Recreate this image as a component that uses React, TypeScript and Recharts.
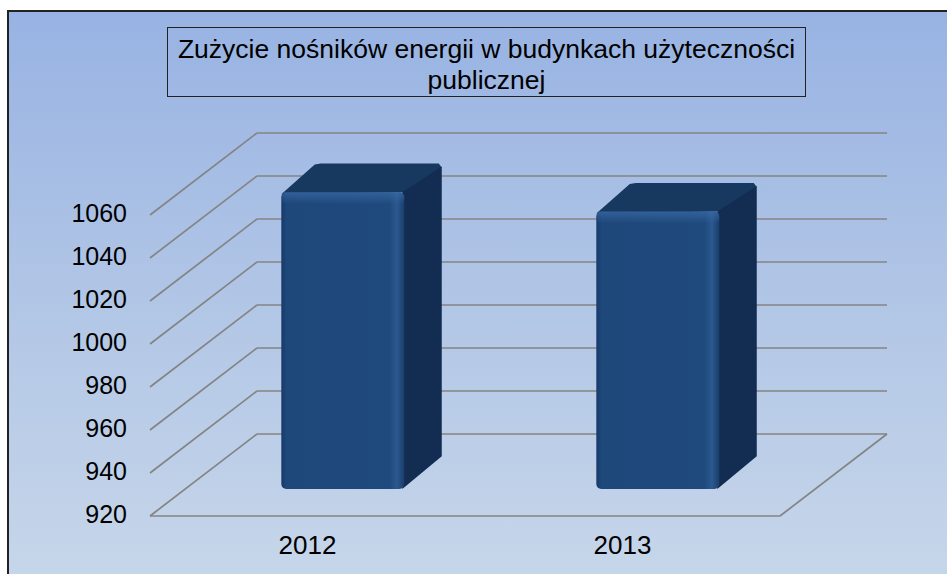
import React from 'react';
import { BarChart, Bar, XAxis, YAxis, CartesianGrid } from 'recharts';

const years = ['2012', '2013'];
const consumption = [1058, 1049];
const yTicks = [920, 940, 960, 980, 1000, 1020, 1040, 1060];
const titleLines = ['Zużycie nośników energii w budynkach użyteczności', 'publicznej'];

const data = years.map((year, i) => ({ year, value: consumption[i] }));

// pseudo 3d: how far the back wall sits from the front plane
const DX = 107;
const DY = 82;
const BAR_OFFSET = 0.33;
const BAR_DEPTH = 0.35;
const FONT = '"Liberation Sans", Arial, sans-serif';
const GRID = '#848484';

const GridLine = (props: any) => {
  const { x1, y1, x2, y2, y, height } = props;
  const isFloor = Math.abs(y1 - (y + height)) < 1;
  return (
    <g>
      <line x1={x1} y1={y1} x2={x1 + DX} y2={y1 - DY} stroke={GRID} strokeWidth={1.7} />
      <line x1={x1 + DX} y1={y1 - DY} x2={x2 + DX} y2={y2 - DY} stroke={GRID} strokeWidth={1.7} />
      {isFloor && (
        <>
          <line x1={x1} y1={y1} x2={x2} y2={y2} stroke={GRID} strokeWidth={1.7} />
          <line x1={x2} y1={y2} x2={x2 + DX} y2={y2 - DY} stroke={GRID} strokeWidth={1.7} />
        </>
      )}
    </g>
  );
};

const Bar3D = (props: any) => {
  const { x, y, width, height } = props;
  const fx = x + DX * BAR_OFFSET;
  const fy = y - DY * BAR_OFFSET;
  const fb = y + height - DY * BAR_OFFSET;
  const dx = DX * BAR_DEPTH;
  const dy = DY * BAR_DEPTH;
  const w = width;
  return (
    <g>
      <polygon
        points={`${fx},${fy + 2} ${fx + dx - 4},${fy - dy + 1} ${fx + dx + 2},${fy - dy} ${fx + w + dx - 3},${fy - dy} ${fx + w + dx},${fy - dy + 4} ${fx + w},${fy}`}
        fill="#17385f"
      />
      <polygon
        points={`${fx + w - 2},${fy} ${fx + w + dx},${fy - dy + 3} ${fx + w + dx},${fb - dy - 4} ${fx + w - 2},${fb}`}
        fill="#132c51"
      />
      <rect x={fx} y={fy} width={w} height={fb - fy} rx={5} fill="url(#frontFace)" />
      <rect x={fx} y={fy} width={w} height={12} rx={5} fill="url(#topShine)" />
    </g>
  );
};

export default function App() {
  return (
    <div style={{ position: 'absolute', left: 0, top: 0, width: 947, height: 574, overflow: 'hidden', background: '#fff' }}>
      <div
        style={{
          position: 'absolute',
          left: 7,
          top: 10,
          right: 0,
          bottom: 0,
          borderLeft: '2px solid #222',
          borderTop: '2px solid #222',
          background: 'linear-gradient(to bottom, #98b3e3 0%, #b3c7e6 55%, #c6d6ea 100%)',
        }}
      />
      <BarChart
        width={947}
        height={574}
        data={data}
        margin={{ top: 215, right: 167, left: 70, bottom: 18 }}
        barSize={123}
        style={{ position: 'absolute', left: 0, top: 0 }}
      >
        <defs>
          <linearGradient id="frontFace" x1="0" y1="0" x2="1" y2="0">
            <stop offset="0%" stopColor="#17396a" />
            <stop offset="4%" stopColor="#1e477a" />
            <stop offset="88%" stopColor="#1f4a7d" />
            <stop offset="94%" stopColor="#2a5990" />
            <stop offset="100%" stopColor="#1a3e6b" />
          </linearGradient>
          <linearGradient id="topShine" x1="0" y1="0" x2="0" y2="1">
            <stop offset="0%" stopColor="#3a6aa6" stopOpacity={0.7} />
            <stop offset="100%" stopColor="#3a6aa6" stopOpacity={0} />
          </linearGradient>
        </defs>
        <CartesianGrid vertical={false} horizontal={GridLine} />
        <XAxis
          dataKey="year"
          axisLine={false}
          tickLine={false}
          tickSize={0}
          tickMargin={20}
          height={40}
          tick={{ fill: '#000', fontSize: 26, fontFamily: FONT }}
        />
        <YAxis
          domain={[920, 1060]}
          ticks={yTicks}
          interval={0}
          axisLine={false}
          tickLine={false}
          tickSize={0}
          tickMargin={23}
          width={80}
          tick={{ fill: '#000', fontSize: 25, fontFamily: FONT, dy: -2 }}
        />
        <Bar dataKey="value" shape={Bar3D} isAnimationActive={false} />
      </BarChart>
      <div
        style={{
          position: 'absolute',
          left: 167,
          top: 27,
          width: 639,
          height: 70,
          border: '1px solid #222',
          boxSizing: 'border-box',
          fontFamily: FONT,
          fontSize: 26.5,
          lineHeight: '31px',
          textAlign: 'center',
          paddingTop: 6,
          color: '#000',
        }}
      >
        {titleLines.map((t) => (
          <div key={t} style={{ whiteSpace: 'nowrap' }}>{t}</div>
        ))}
      </div>
    </div>
  );
}
